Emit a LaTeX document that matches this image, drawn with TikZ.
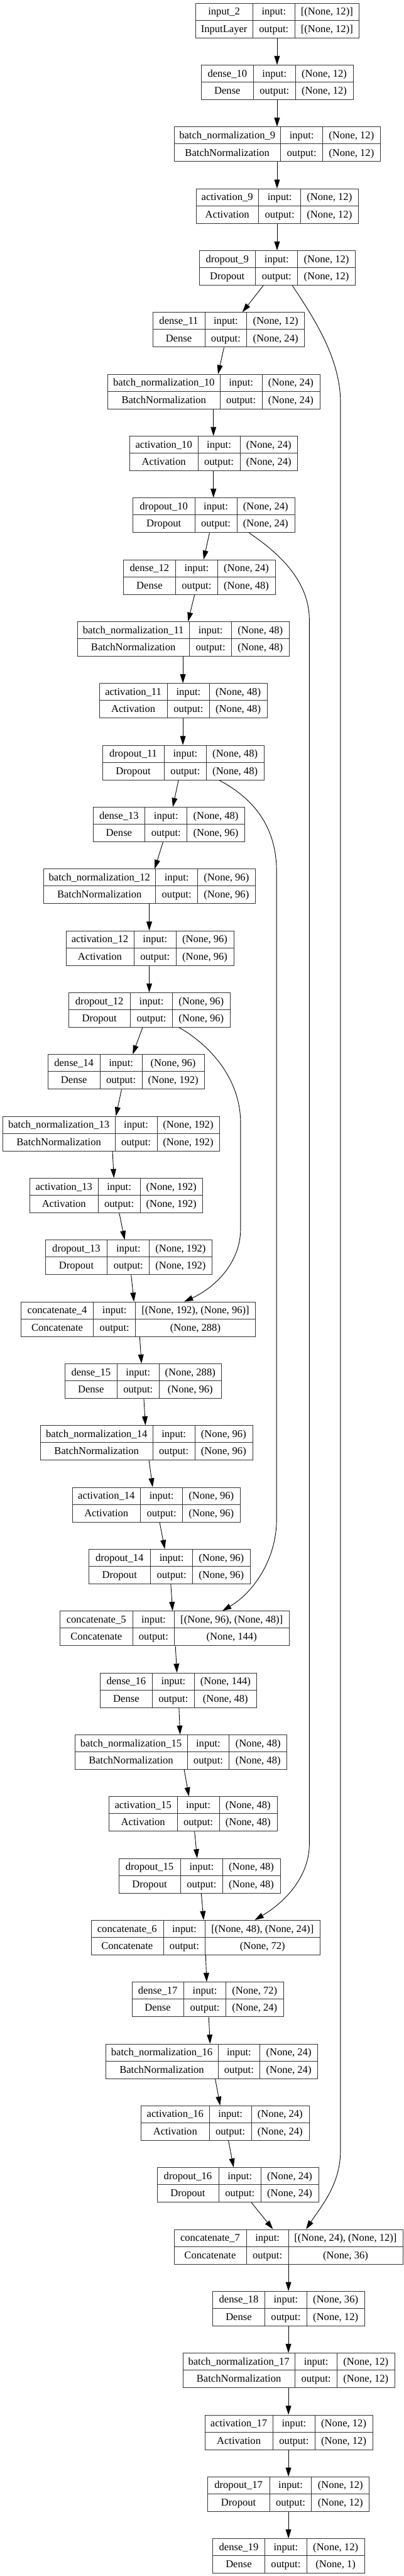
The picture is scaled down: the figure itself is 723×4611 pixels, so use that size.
\documentclass[tikz,border=0pt]{standalone}
\usepackage{fontspec}
\setmainfont{Liberation Serif}
\usetikzlibrary{arrows.meta}
\tikzset{
  layerbox/.style={draw=black!80, line width=0.8pt, rectangle, inner sep=0pt, minimum height=46.5pt, anchor=north west},
  divider/.style={draw=black!80, line width=0.8pt},
  celltext/.style={anchor=base, inner sep=0pt, font=\fontsize{14pt}{16pt}\selectfont},
  conn/.style={draw=black, line width=0.75pt, -{Triangle[length=12pt,width=7.5pt]}},
}
% #1 id, #2 row, #3 left, #4 first column width, #5 third column width,
% #6 name, #7 class, #8 input shape, #9 output shape
\newcommand\klayer[9]{%
  \pgfmathsetmacro\kt{5.33+#2*110.69}%
  \pgfmathsetmacro\ka{#3+#4}%
  \pgfmathsetmacro\kb{#3+#4+75.3}%
  \pgfmathsetmacro\kwu{#4+75.3+#5}%
  \pgfmathsetmacro\kw{(#4+75.3+#5)*0.75}%
  \pgfmathsetmacro\kc{#3+#4/2}%
  \pgfmathsetmacro\kd{#3+#4+37.65}%
  \pgfmathsetmacro\ke{#3+#4+75.3+#5/2}%
  \pgfmathsetmacro\kya{\kt+21.5}%
  \pgfmathsetmacro\kyb{\kt+52.5}%
  \pgfmathsetmacro\kym{\kt+31}%
  \node[layerbox, minimum width=\kw pt] (#1) at (#3,\kt) {};
  \draw[divider] (\ka,\kt) -- ++(0,62);
  \draw[divider] (\kb,\kt) -- ++(0,62);
  \draw[divider] (#3,\kym) -- ++(\kwu,0);
  \node[celltext] (#1-name) at (\kc,\kya) {#6};
  \node[celltext] (#1-cls) at (\kc,\kyb) {#7};
  \node[celltext] (#1-il) at (\kd,\kya) {input:};
  \node[celltext] (#1-ol) at (\kd,\kyb) {output:};
  \node[celltext] (#1-in) at (\ke,\kya) {#8};
  \node[celltext] (#1-out) at (\ke,\kyb) {#9};
}
\newcommand\kedge[4]{\draw[conn] (#1.south -| #3,0) -- (#2.north -| #4,0);}
\begin{document}
\begin{tikzpicture}[x=0.75pt,y=-0.75pt]
\fill[white] (0,0) rectangle (723,4611);
\useasboundingbox (0,0) rectangle (723,4611);

\klayer{L0}{0}{350}{103}{115}{input\_2}{InputLayer}{[(None, 12)]}{[(None, 12)]}
\klayer{L1}{1}{360.6}{93.5}{103}{dense\_10}{Dense}{(None, 12)}{(None, 12)}
\klayer{L2}{2}{311.5}{191.4}{103}{batch\_normalization\_9}{BatchNormalization}{(None, 12)}{(None, 12)}
\klayer{L3}{3}{350.9}{112.6}{103}{activation\_9}{Activation}{(None, 12)}{(None, 12)}
\klayer{L4}{4}{356.4}{101.6}{103}{dropout\_9}{Dropout}{(None, 12)}{(None, 12)}
\klayer{L5}{5}{273.5}{93.5}{103}{dense\_11}{Dense}{(None, 12)}{(None, 24)}
\klayer{L6}{6}{192.8}{201.5}{103}{batch\_normalization\_10}{BatchNormalization}{(None, 24)}{(None, 24)}
\klayer{L7}{7}{232.2}{122.5}{103}{activation\_10}{Activation}{(None, 24)}{(None, 24)}
\klayer{L8}{8}{237.8}{111.3}{103}{dropout\_10}{Dropout}{(None, 24)}{(None, 24)}
\klayer{L9}{9}{221.1}{93.5}{103}{dense\_12}{Dense}{(None, 24)}{(None, 48)}
\klayer{L10}{10}{138.1}{201.5}{103}{batch\_normalization\_11}{BatchNormalization}{(None, 48)}{(None, 48)}
\klayer{L11}{11}{177.5}{122.5}{103}{activation\_11}{Activation}{(None, 48)}{(None, 48)}
\klayer{L12}{12}{183.1}{111.3}{103}{dropout\_11}{Dropout}{(None, 48)}{(None, 48)}
\klayer{L13}{13}{166.4}{93.5}{103}{dense\_13}{Dense}{(None, 48)}{(None, 96)}
\klayer{L14}{14}{77.4}{201.5}{103}{batch\_normalization\_12}{BatchNormalization}{(None, 96)}{(None, 96)}
\klayer{L15}{15}{117.7}{122.5}{103}{activation\_12}{Activation}{(None, 96)}{(None, 96)}
\klayer{L16}{16}{122.4}{111.3}{103}{dropout\_12}{Dropout}{(None, 96)}{(None, 96)}
\klayer{L17}{17}{85.7}{93.5}{111.5}{dense\_14}{Dense}{(None, 96)}{(None, 192)}
\klayer{L18}{18}{4.6}{201.5}{111.5}{batch\_normalization\_13}{BatchNormalization}{(None, 192)}{(None, 192)}
\klayer{L19}{19}{53.3}{122.5}{111.5}{activation\_13}{Activation}{(None, 192)}{(None, 192)}
\klayer{L20}{20}{81.1}{111.3}{111.5}{dropout\_13}{Dropout}{(None, 192)}{(None, 192)}
\klayer{L21}{21}{37.5}{130}{214.6}{concatenate\_4}{Concatenate}{[(None, 192), (None, 96)]}{(None, 288)}
\klayer{L22}{22}{116.3}{93.5}{111.5}{dense\_15}{Dense}{(None, 288)}{(None, 96)}
\klayer{L23}{23}{72.3}{201.5}{103}{batch\_normalization\_14}{BatchNormalization}{(None, 96)}{(None, 96)}
\klayer{L24}{24}{129.3}{122.5}{103}{activation\_14}{Activation}{(None, 96)}{(None, 96)}
\klayer{L25}{25}{158.5}{111.3}{103}{dropout\_14}{Dropout}{(None, 96)}{(None, 96)}
\klayer{L26}{26}{107.5}{130}{204.6}{concatenate\_5}{Concatenate}{[(None, 96), (None, 48)]}{(None, 144)}
\klayer{L27}{27}{179.4}{93.5}{111.5}{dense\_16}{Dense}{(None, 144)}{(None, 48)}
\klayer{L28}{28}{134}{201.5}{103}{batch\_normalization\_15}{BatchNormalization}{(None, 48)}{(None, 48)}
\klayer{L29}{29}{195.1}{122.5}{103}{activation\_15}{Activation}{(None, 48)}{(None, 48)}
\klayer{L30}{30}{212.3}{111.3}{103}{dropout\_15}{Dropout}{(None, 48)}{(None, 48)}
\klayer{L31}{31}{162.7}{130}{204.6}{concatenate\_6}{Concatenate}{[(None, 48), (None, 24)]}{(None, 72)}
\klayer{L32}{32}{235.9}{93.5}{103}{dense\_17}{Dense}{(None, 72)}{(None, 24)}
\klayer{L33}{33}{189.1}{201.5}{103}{batch\_normalization\_16}{BatchNormalization}{(None, 24)}{(None, 24)}
\klayer{L34}{34}{252.6}{122.5}{103}{activation\_16}{Activation}{(None, 24)}{(None, 24)}
\klayer{L35}{35}{280.9}{111.3}{103}{dropout\_16}{Dropout}{(None, 24)}{(None, 24)}
\klayer{L36}{36}{311.5}{130}{204.6}{concatenate\_7}{Concatenate}{[(None, 24), (None, 12)]}{(None, 36)}
\klayer{L37}{37}{381}{93.5}{103}{dense\_18}{Dense}{(None, 36)}{(None, 12)}
\klayer{L38}{38}{327.2}{201.5}{103}{batch\_normalization\_17}{BatchNormalization}{(None, 12)}{(None, 12)}
\klayer{L39}{39}{366.6}{122.5}{103}{activation\_17}{Activation}{(None, 12)}{(None, 12)}
\klayer{L40}{40}{371.7}{111.3}{103}{dropout\_17}{Dropout}{(None, 12)}{(None, 12)}
\klayer{L41}{41}{381}{93.5}{103}{dense\_19}{Dense}{(None, 12)}{(None, 1)}

\kedge{L0}{L1}{496.4}{496.4}
\kedge{L1}{L2}{496.4}{496.4}
\kedge{L2}{L3}{496.4}{496.4}
\kedge{L3}{L4}{496.4}{496.4}
\kedge{L4}{L5}{471.8}{434.3}
\kedge{L5}{L6}{401.4}{390.7}
\kedge{L6}{L7}{382.4}{382.4}
\kedge{L7}{L8}{382.4}{382.4}
\kedge{L8}{L9}{375.4}{364.8}
\kedge{L9}{L10}{348.6}{337}
\kedge{L10}{L11}{327.7}{327.7}
\kedge{L11}{L12}{327.7}{327.7}
\kedge{L12}{L13}{319.8}{309.6}
\kedge{L13}{L14}{292}{277.2}
\kedge{L14}{L15}{267.4}{267.4}
\kedge{L15}{L16}{267.4}{267.4}
\kedge{L16}{L17}{255.4}{237.8}
\kedge{L17}{L18}{217.8}{207.6}
\kedge{L18}{L19}{201.6}{204}
\kedge{L19}{L20}{213.7}{223.4}
\kedge{L20}{L21}{235}{240}
\kedge{L21}{L22}{250.3}{253.5}
\kedge{L22}{L23}{257.7}{260.5}
\kedge{L23}{L24}{267}{273.5}
\kedge{L24}{L25}{286}{295.3}
\kedge{L25}{L26}{306}{309.2}
\kedge{L26}{L27}{314.3}{317}
\kedge{L27}{L28}{320.7}{322.6}
\kedge{L28}{L29}{330}{338.4}
\kedge{L29}{L30}{348.6}{353.2}
\kedge{L30}{L31}{360.6}{364.8}
\kedge{L31}{L32}{368.5}{370.3}
\kedge{L32}{L33}{374}{376.4}
\kedge{L33}{L34}{385.6}{394.4}
\kedge{L34}{L35}{409.3}{418.5}
\kedge{L35}{L36}{450.5}{489}
\kedge{L36}{L37}{516.8}{516.8}
\kedge{L37}{L38}{516.8}{516.8}
\kedge{L38}{L39}{516.8}{516.8}
\kedge{L39}{L40}{516.8}{516.8}
\kedge{L40}{L41}{516.8}{516.8}

% skip connections
\draw[conn] (L4.south -| 523.8,0) .. controls (560,566) and (610,640) .. (610,720)
  -- (610,3850) .. controls (610,3910) and (575,3950) .. (L36.north -| 548.3,0);
\draw[conn] (L8.south -| 446.3,0) .. controls (500,990) and (554.3,1040) .. (554.3,1110)
  -- (554.3,3300) .. controls (554.3,3360) and (510,3405) .. (L31.north -| 456.5,0);
\draw[conn] (L12.south -| 393,0) .. controls (455,1430) and (495.5,1480) .. (495.5,1560)
  -- (495.5,2720) .. controls (495.5,2790) and (455,2850) .. (L26.north -| 398.6,0);
\draw[conn] (L16.south -| 321.2,0) .. controls (375,1870) and (431,1930) .. (431,2010)
  -- (431,2200) .. controls (431,2260) and (385,2305) .. (L21.north -| 330,0);
\end{tikzpicture}
\end{document}
